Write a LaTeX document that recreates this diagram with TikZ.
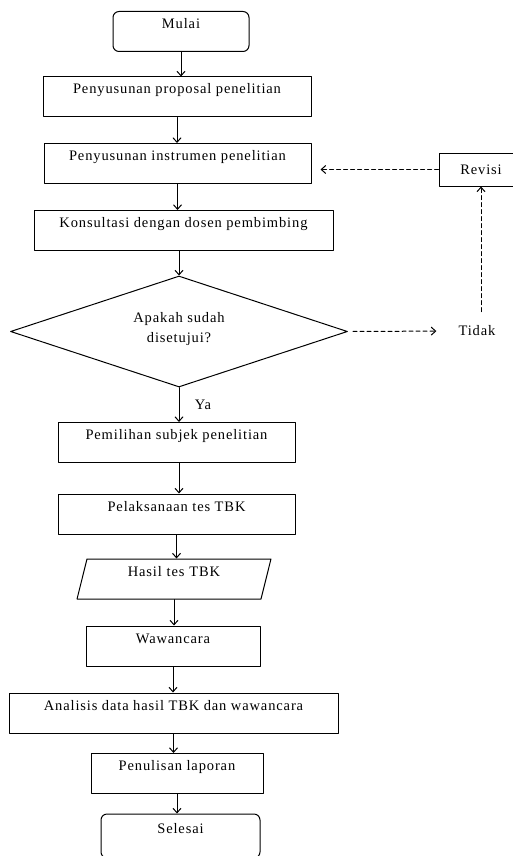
\documentclass[tikz,border=0pt]{standalone}
\usepackage{fontspec}
\setmainfont{Liberation Serif}[LetterSpace=6]
\usetikzlibrary{arrows.meta,shapes.geometric}

\begin{document}
\begin{tikzpicture}[x=1pt, y=-1pt, line cap=round, line join=round,
		>={Straight Barb[length=4.5pt,width=8pt]},
		font=\fontsize{14.5}{17}\selectfont,
		proc/.style={draw, line width=1pt, rectangle, inner xsep=2pt, inner ysep=3pt, text height=14pt, text depth=20pt},
		term/.style={proc, rounded corners=6pt},
		dec/.style={draw, line width=1pt, diamond, aspect=3, inner sep=0pt, align=center, text depth=9pt},
		io/.style={draw, line width=1pt, trapezium, trapezium left angle=76, trapezium right angle=104, text width=160pt, align=center, inner xsep=7pt, inner ysep=3pt, text height=14pt, text depth=20pt},
		flow/.style={->, line width=1pt},
		dashflow/.style={->, line width=1pt, dash pattern=on 4pt off 3pt}]
	
	\useasboundingbox (0,0) rectangle (513,856);
	
	% main column
	\node[term, minimum width=136pt] (mulai) at (181,31.5) {Mulai};
	\node[proc, minimum width=268pt] (usul) at (177,97) {Penyusunan proposal penelitian};
	\node[proc, minimum width=267pt] (instr) at (177.5,163.5) {Penyusunan instrumen penelitian};
	\node[proc, minimum width=299pt] (konsul) at (183.5,230.5) {Konsultasi dengan dosen pembimbing};
	\node[dec, minimum width=337pt, minimum height=111pt] (setuju) at (179,331.5) {Apakah sudah\\[3pt]disetujui?};
	\node[proc, minimum width=237pt] (pilih) at (176.5,442.5) {Pemilihan subjek penelitian};
	\node[proc, minimum width=237pt] (tes) at (176.5,514) {Pelaksanaan tes TBK};
	\node[io] (hasil) at (174,579) {Hasil tes TBK};
	\node[proc, minimum width=174pt] (wawan) at (173,646) {Wawancara};
	\node[proc, minimum width=329pt] (analisis) at (173.5,713) {Analisis data hasil TBK dan wawancara};
	\node[proc, minimum width=172pt] (tulis) at (177,773.5) {Penulisan laporan};
	\node[term, minimum width=159pt, minimum height=44pt] (selesai) at (180.5,836) {Selesai};
	
	% revision loop
	\node[draw, line width=1pt, minimum width=84pt, minimum height=33pt] (revisi) at (481,169.5) {Revisi};
	\node[inner sep=2pt] (tidak) at (477,331) {Tidak};
	
	\draw[flow] (mulai.south) -- (mulai.south |- usul.north);
	\draw[flow] (usul.south) -- (usul.south |- instr.north);
	\draw[flow] (instr.south) -- (instr.south |- konsul.north);
	\draw[flow] (setuju.north |- konsul.south) -- (setuju.north);
	\draw[flow] (setuju.south) -- (setuju.south |- pilih.north) node[midway, right=12pt] {Ya};
	\draw[flow] (setuju.south |- pilih.south) -- (setuju.south |- tes.north);
	\draw[flow] (tes.south) -- (tes.south |- hasil.north);
	\draw[flow] (hasil.south) -- (hasil.south |- wawan.north);
	\draw[flow] (wawan.south) -- (wawan.south |- analisis.north);
	\draw[flow] (analisis.south) -- (analisis.south |- tulis.north);
	\draw[flow] (tulis.south) -- (tulis.south |- selesai.north);
	
	\draw[dashflow, shorten <=5pt, shorten >=20pt] (setuju.east) -- (tidak.west);
	\draw[dashflow, shorten <=12pt] (tidak.north -| revisi.south) -- (revisi.south);
	\draw[dashflow, shorten >=9pt] (revisi.west) -- (revisi.west -| instr.east);
	
\end{tikzpicture}
\end{document}
